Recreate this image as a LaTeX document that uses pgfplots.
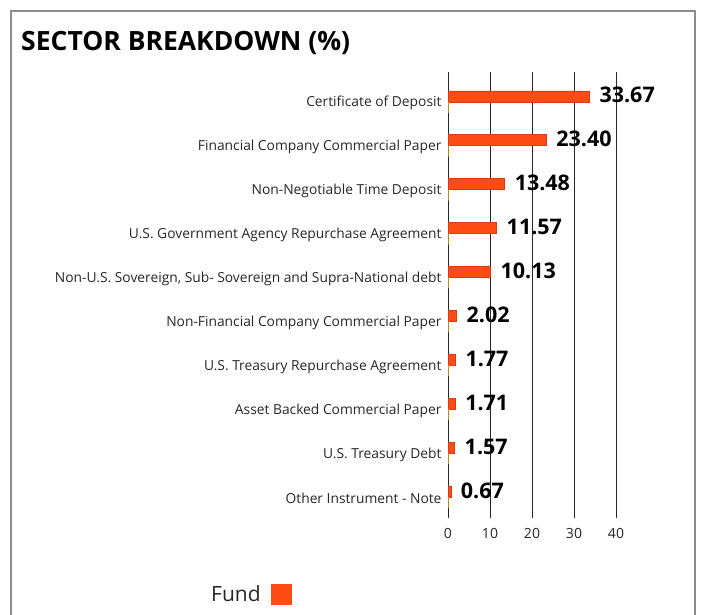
\documentclass[border=0pt]{standalone}
\usepackage{fontspec}
\setmainfont{Open Sans}
\usepackage{pgfplots}
\pgfplotsset{compat=1.18}
\definecolor{fundorange}{RGB}{255,76,21}
\definecolor{fundedge}{RGB}{215,60,20}
\definecolor{benchyellow}{RGB}{235,185,0}
\definecolor{framegray}{RGB}{140,140,140}
\begin{document}
\begin{tikzpicture}
\path[use as bounding box] (0pt,0pt) rectangle (701pt,-615pt);
\draw[framegray, line width=2pt] (11pt,-630pt) -- (11pt,-11pt) -- (695pt,-11pt) -- (695pt,-630pt);
\node[anchor=west, inner sep=0pt, font=\fontsize{26.5}{30}\selectfont\bfseries] at (21pt,-43pt) {SECTOR BREAKDOWN (\%)};
\begin{axis}[
  at={(448pt,-518pt)}, anchor=south west,
  scale only axis, width=189pt, height=446pt,
  xmin=0, xmax=45, ymin=-0.48, ymax=9.68,
  axis line style={draw=none},
  xtick={0,10,20,30,40}, major tick length=0pt,
  xmajorgrids, grid style={black!85, line width=0.9pt},
  ytick={0,...,9},
  yticklabels={Other Instrument - Note, U.S. Treasury Debt, Asset Backed Commercial Paper, U.S. Treasury Repurchase Agreement, Non-Financial Company Commercial Paper, {Non-U.S. Sovereign, Sub- Sovereign and Supra-National debt}, U.S. Government Agency Repurchase Agreement, Non-Negotiable Time Deposit, Financial Company Commercial Paper, Certificate of Deposit},
  yticklabel style={font=\fontsize{13.8}{15}\selectfont, text=black!85, xshift=-3pt, yshift=-1.5pt},
  xticklabel style={font=\fontsize{14}{15}\selectfont, text=black!85, yshift=-7pt},
  /pgf/number format/assume math mode=true,
  legend plot pos=right,
  legend image code/.code={\path (0pt,0pt); \fill[fundorange] (8.5pt,-10pt) rectangle (28.5pt,10pt);},
  legend style={at={(axis description cs:-1.2646,-0.171)}, anchor=west, draw=none, fill=none,
    font=\fontsize{21}{26}\selectfont, text=black!85, inner sep=0pt},
]
\addplot[xbar, bar width=11pt, bar shift=5.5pt, fill=fundorange, draw=fundedge, line width=0.6pt,
  point meta=explicit symbolic,
  nodes near coords, nodes near coords style={anchor=west, font=\fontsize{21.5}{24}\selectfont\bfseries, text=black, xshift=6.5pt, yshift=6.5pt}]
  coordinates {
  (33.67,9) [33.67]
  (23.40,8) [23.40]
  (13.48,7) [13.48]
  (11.57,6) [11.57]
  (10.13,5) [10.13]
  (2.02,4) [2.02]
  (1.77,3) [1.77]
  (1.71,2) [1.71]
  (1.57,1) [1.57]
  (0.67,0) [0.67]
  };
\addlegendentry{Fund}
\addplot[xbar, forget plot, bar width=11pt, bar shift=-5.5pt, fill=benchyellow, draw=benchyellow, line width=1pt]
  coordinates {(0,9) (0,8) (0,7) (0,6) (0,5) (0,4) (0,3) (0,2) (0,1) (0,0)};
\end{axis}
\end{tikzpicture}
\end{document}
